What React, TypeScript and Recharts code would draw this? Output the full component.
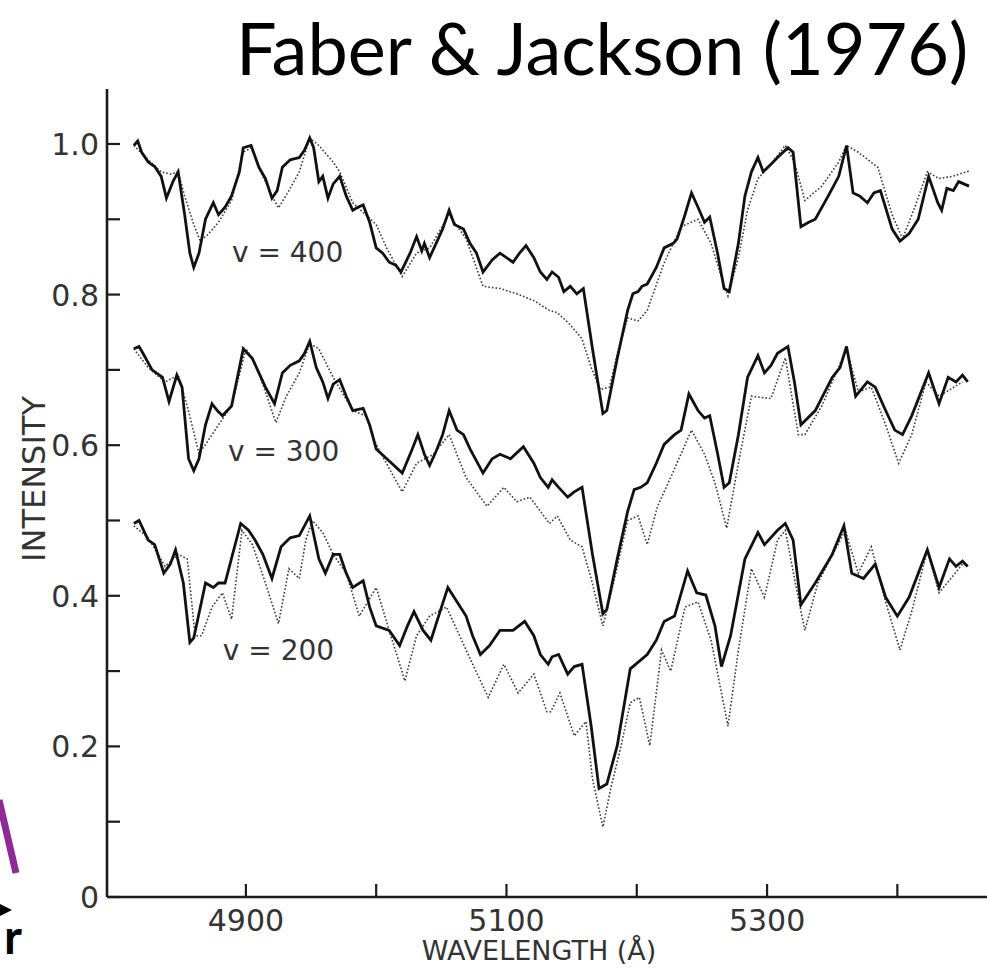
import React from 'react';
import { LineChart, Line, XAxis, YAxis, ReferenceDot } from 'recharts';

// wavelength (Å), intensity
const galaxy400: [number, number][] = [
  [4814, 0.998], [4817, 1.004], [4820, 0.989], [4825, 0.976], [4830, 0.970], [4835, 0.957],
  [4839, 0.928], [4844, 0.950], [4848, 0.963], [4853, 0.906], [4857, 0.855], [4860, 0.836],
  [4864, 0.855], [4869, 0.900], [4875, 0.922], [4879, 0.906], [4884, 0.916], [4889, 0.931],
  [4895, 0.963], [4898, 0.995], [4904, 0.998], [4910, 0.969], [4915, 0.954], [4920, 0.928],
  [4924, 0.938], [4928, 0.969], [4934, 0.979], [4941, 0.982], [4945, 0.992], [4949, 1.008],
  [4952, 0.995], [4956, 0.950], [4959, 0.957], [4963, 0.928], [4967, 0.947], [4972, 0.957],
  [4977, 0.931], [4982, 0.912], [4986, 0.916], [4990, 0.919], [4995, 0.896], [5000, 0.862],
  [5005, 0.855], [5010, 0.843], [5015, 0.839], [5019, 0.830], [5026, 0.855], [5031, 0.877],
  [5035, 0.858], [5037, 0.868], [5041, 0.849], [5046, 0.868], [5051, 0.887], [5056, 0.912],
  [5060, 0.893], [5067, 0.887], [5072, 0.868], [5077, 0.855], [5082, 0.830], [5089, 0.846],
  [5095, 0.855], [5100, 0.849], [5105, 0.843], [5110, 0.855], [5115, 0.865], [5121, 0.849],
  [5126, 0.830], [5131, 0.820], [5135, 0.830], [5140, 0.823], [5144, 0.804], [5149, 0.811],
  [5154, 0.801], [5159, 0.808], [5166, 0.728], [5174, 0.642], [5177, 0.646], [5185, 0.715],
  [5193, 0.779], [5197, 0.801], [5201, 0.804], [5204, 0.811], [5208, 0.814], [5215, 0.836],
  [5221, 0.862], [5228, 0.868], [5231, 0.874], [5237, 0.906], [5242, 0.935], [5247, 0.916],
  [5252, 0.896], [5256, 0.903], [5262, 0.855], [5267, 0.808], [5271, 0.804], [5278, 0.868],
  [5283, 0.931], [5288, 0.963], [5293, 0.982], [5297, 0.963], [5303, 0.973], [5308, 0.982],
  [5316, 0.995], [5320, 0.989], [5326, 0.890], [5332, 0.896], [5337, 0.900], [5347, 0.931],
  [5355, 0.957], [5361, 0.998], [5366, 0.935], [5371, 0.931], [5377, 0.922], [5382, 0.935],
  [5387, 0.938], [5396, 0.887], [5402, 0.871], [5409, 0.881], [5416, 0.900], [5424, 0.957],
  [5431, 0.922], [5434, 0.912], [5438, 0.941], [5443, 0.938], [5447, 0.950], [5451, 0.947],
  [5455, 0.944],
];

const template400: [number, number][] = [
  [4814, 0.998], [4825, 0.979], [4835, 0.963], [4842, 0.960], [4848, 0.963], [4853, 0.931],
  [4860, 0.893], [4865, 0.871], [4871, 0.880], [4879, 0.896], [4889, 0.925], [4898, 0.989],
  [4904, 0.995], [4910, 0.969], [4920, 0.931], [4925, 0.915], [4933, 0.938], [4941, 0.963],
  [4949, 1.008], [4956, 0.998], [4967, 0.976], [4972, 0.963], [4982, 0.922], [4992, 0.906],
  [5000, 0.893], [5008, 0.862], [5020, 0.824], [5031, 0.855], [5041, 0.862], [5056, 0.906],
  [5069, 0.874], [5082, 0.811], [5095, 0.808], [5108, 0.801], [5121, 0.792], [5133, 0.779],
  [5139, 0.776], [5149, 0.760], [5158, 0.741], [5165, 0.703], [5172, 0.674], [5179, 0.677],
  [5186, 0.728], [5193, 0.769], [5201, 0.765], [5208, 0.779], [5221, 0.842], [5234, 0.890],
  [5247, 0.900], [5257, 0.868], [5265, 0.823], [5270, 0.798], [5278, 0.849], [5285, 0.912],
  [5293, 0.954], [5303, 0.973], [5314, 0.998], [5321, 0.976], [5329, 0.925], [5342, 0.944],
  [5355, 0.976], [5361, 0.998], [5370, 0.989], [5385, 0.969], [5396, 0.906], [5404, 0.874],
  [5414, 0.919], [5423, 0.963], [5432, 0.954], [5442, 0.957], [5455, 0.964],
];

const galaxy300: [number, number][] = [
  [4814, 0.728], [4818, 0.731], [4821, 0.722], [4828, 0.700], [4836, 0.690], [4841, 0.658],
  [4847, 0.693], [4851, 0.677], [4856, 0.582], [4860, 0.566], [4864, 0.582], [4869, 0.627],
  [4874, 0.655], [4878, 0.646], [4882, 0.639], [4889, 0.652], [4898, 0.728], [4905, 0.715],
  [4910, 0.696], [4915, 0.677], [4922, 0.655], [4928, 0.696], [4934, 0.706], [4941, 0.712],
  [4945, 0.722], [4949, 0.738], [4954, 0.703], [4959, 0.684], [4963, 0.662], [4967, 0.681],
  [4972, 0.687], [4977, 0.665], [4982, 0.646], [4990, 0.649], [4995, 0.627], [5000, 0.595],
  [5010, 0.579], [5020, 0.563], [5027, 0.592], [5032, 0.614], [5037, 0.588], [5041, 0.573],
  [5046, 0.592], [5051, 0.614], [5056, 0.646], [5062, 0.620], [5067, 0.614], [5072, 0.595],
  [5082, 0.563], [5089, 0.582], [5095, 0.588], [5103, 0.582], [5113, 0.598], [5121, 0.576],
  [5126, 0.557], [5132, 0.544], [5135, 0.554], [5140, 0.544], [5147, 0.531], [5152, 0.538],
  [5158, 0.544], [5166, 0.455], [5174, 0.376], [5177, 0.382], [5185, 0.449], [5193, 0.512],
  [5198, 0.541], [5203, 0.544], [5208, 0.550], [5215, 0.576], [5221, 0.601], [5229, 0.614],
  [5234, 0.620], [5240, 0.668], [5247, 0.646], [5252, 0.636], [5256, 0.639], [5262, 0.589],
  [5267, 0.544], [5271, 0.550], [5278, 0.614], [5285, 0.690], [5293, 0.719], [5298, 0.696],
  [5303, 0.706], [5308, 0.722], [5316, 0.731], [5321, 0.684], [5326, 0.627], [5337, 0.646],
  [5350, 0.690], [5356, 0.703], [5361, 0.731], [5368, 0.665], [5377, 0.684], [5383, 0.677],
  [5391, 0.646], [5398, 0.620], [5404, 0.614], [5411, 0.639], [5424, 0.696], [5432, 0.655],
  [5439, 0.690], [5445, 0.684], [5450, 0.693], [5454, 0.684],
];

const template300: [number, number][] = [
  [4814, 0.728], [4825, 0.703], [4838, 0.684], [4848, 0.693], [4855, 0.652], [4864, 0.589],
  [4869, 0.601], [4879, 0.627], [4889, 0.652], [4900, 0.728], [4907, 0.709], [4915, 0.671],
  [4923, 0.630], [4931, 0.665], [4941, 0.696], [4949, 0.735], [4956, 0.728], [4967, 0.690],
  [4982, 0.646], [4992, 0.639], [5000, 0.601], [5010, 0.569], [5020, 0.538], [5031, 0.576],
  [5044, 0.588], [5056, 0.614], [5069, 0.557], [5085, 0.519], [5098, 0.544], [5108, 0.525],
  [5118, 0.531], [5133, 0.496], [5139, 0.506], [5149, 0.474], [5158, 0.465], [5165, 0.423],
  [5174, 0.360], [5183, 0.423], [5193, 0.500], [5201, 0.506], [5208, 0.468], [5216, 0.519],
  [5226, 0.557], [5242, 0.620], [5252, 0.588], [5260, 0.550], [5269, 0.490], [5278, 0.576],
  [5288, 0.665], [5303, 0.662], [5314, 0.716], [5324, 0.614], [5329, 0.614], [5342, 0.652],
  [5361, 0.728], [5370, 0.671], [5380, 0.677], [5391, 0.627], [5401, 0.576], [5411, 0.614],
  [5422, 0.684], [5432, 0.665], [5450, 0.684],
];

const galaxy200: [number, number][] = [
  [4814, 0.496], [4818, 0.500], [4825, 0.474], [4830, 0.468], [4837, 0.430], [4842, 0.442],
  [4846, 0.461], [4852, 0.417], [4857, 0.338], [4860, 0.344], [4869, 0.417], [4875, 0.411],
  [4879, 0.417], [4884, 0.417], [4896, 0.496], [4902, 0.487], [4907, 0.474], [4913, 0.455],
  [4920, 0.423], [4927, 0.465], [4934, 0.477], [4941, 0.480], [4949, 0.506], [4956, 0.449],
  [4961, 0.430], [4967, 0.455], [4972, 0.455], [4977, 0.430], [4982, 0.411], [4990, 0.420],
  [4995, 0.385], [5000, 0.360], [5010, 0.354], [5018, 0.334], [5024, 0.360], [5029, 0.379],
  [5036, 0.354], [5042, 0.341], [5049, 0.379], [5055, 0.411], [5062, 0.392], [5069, 0.373],
  [5074, 0.347], [5080, 0.322], [5087, 0.334], [5095, 0.354], [5105, 0.354], [5114, 0.366],
  [5121, 0.347], [5126, 0.322], [5132, 0.309], [5135, 0.319], [5140, 0.322], [5147, 0.296],
  [5152, 0.306], [5158, 0.309], [5165, 0.227], [5171, 0.144], [5177, 0.150], [5185, 0.201],
  [5190, 0.252], [5195, 0.303], [5208, 0.322], [5215, 0.341], [5221, 0.366], [5229, 0.373],
  [5239, 0.433], [5246, 0.404], [5253, 0.401], [5260, 0.360], [5265, 0.306], [5272, 0.347],
  [5283, 0.449], [5293, 0.484], [5298, 0.468], [5308, 0.487], [5314, 0.496], [5320, 0.474],
  [5326, 0.388], [5337, 0.417], [5350, 0.455], [5359, 0.493], [5365, 0.430], [5374, 0.423],
  [5383, 0.442], [5391, 0.398], [5400, 0.373], [5409, 0.398], [5423, 0.461], [5432, 0.411],
  [5440, 0.449], [5445, 0.439], [5450, 0.446], [5454, 0.439],
];

const template200: [number, number][] = [
  [4814, 0.493], [4825, 0.477], [4838, 0.439], [4848, 0.455], [4855, 0.449], [4861, 0.347],
  [4866, 0.347], [4874, 0.385], [4882, 0.404], [4889, 0.369], [4897, 0.487], [4905, 0.468],
  [4915, 0.417], [4925, 0.363], [4933, 0.436], [4941, 0.423], [4946, 0.474], [4951, 0.500],
  [4959, 0.484], [4967, 0.455], [4977, 0.430], [4987, 0.373], [5000, 0.411], [5010, 0.354],
  [5022, 0.287], [5031, 0.347], [5041, 0.373], [5054, 0.385], [5069, 0.328], [5086, 0.265],
  [5098, 0.309], [5109, 0.271], [5121, 0.296], [5131, 0.246], [5134, 0.246], [5141, 0.271],
  [5152, 0.214], [5161, 0.233], [5166, 0.157], [5174, 0.093], [5180, 0.144], [5188, 0.201],
  [5195, 0.258], [5202, 0.265], [5210, 0.201], [5219, 0.328], [5226, 0.300], [5237, 0.385],
  [5247, 0.392], [5257, 0.341], [5270, 0.227], [5278, 0.328], [5288, 0.436], [5298, 0.398],
  [5308, 0.474], [5314, 0.487], [5321, 0.423], [5329, 0.354], [5339, 0.417], [5360, 0.487],
  [5370, 0.430], [5380, 0.465], [5391, 0.392], [5402, 0.328], [5411, 0.379], [5423, 0.461],
  [5432, 0.404], [5450, 0.442],
];

const xTicks = [4900, 5000, 5100, 5200, 5300, 5400];
const xLabelled = [4900, 5100, 5300];
const yTicks = [0, 0.1, 0.2, 0.3, 0.4, 0.5, 0.6, 0.7, 0.8, 0.9, 1.0];
const yLabelled = [0, 0.2, 0.4, 0.6, 0.8, 1.0];

const panels = [
  { label: 'v = 400', galaxy: galaxy400, template: template400, at: [4932, 0.857] },
  { label: 'v = 300', galaxy: galaxy300, template: template300, at: [4929, 0.592] },
  { label: 'v = 200', galaxy: galaxy200, template: template200, at: [4925, 0.328] },
];

const X_DOMAIN: [number, number] = [4793.4, 5468.8];
const Y_DOMAIN: [number, number] = [0, 1.073];
const INK = '#1c1c1c';
const TICK_FONT = '"DejaVu Sans", sans-serif';
const TICK_LEN = 13;

const toPoints = (s: [number, number][]) => s.map(([w, i]) => ({ w, i }));

function BottomTick({ x, y, payload }: any) {
  const v = payload.value;
  return (
    <g>
      <line x1={x} x2={x} y1={y} y2={y - TICK_LEN} stroke={INK} strokeWidth={2.2} />
      {xLabelled.includes(v) && (
        <text x={x} y={y + 34} textAnchor="middle" fontSize={30} fontFamily={TICK_FONT} fill="#333">
          {v}
        </text>
      )}
    </g>
  );
}

function TopTick({ x, y }: any) {
  return <line x1={x} x2={x} y1={y} y2={y + TICK_LEN} stroke={INK} strokeWidth={2.2} />;
}

function LeftTick({ x, y, payload }: any) {
  const v = payload.value;
  const show = yLabelled.some((t) => Math.abs(t - v) < 1e-6);
  return (
    <g>
      <line x1={x} x2={x + TICK_LEN} y1={y} y2={y} stroke={INK} strokeWidth={2.2} />
      {show && (
        <text x={x - 8} y={y + 11} textAnchor="end" fontSize={30} fontFamily={TICK_FONT} fill="#333">
          {v === 0 ? '0' : v.toFixed(1)}
        </text>
      )}
    </g>
  );
}

export default function App() {
  return (
    <div style={{ position: 'fixed', left: 0, top: 0, width: 987, height: 968, background: '#fff', overflow: 'hidden' }}>
      <LineChart width={987} height={968} margin={{ top: 89, right: 0, bottom: 0, left: 0 }}>
        <XAxis
          dataKey="w"
          type="number"
          domain={X_DOMAIN}
          ticks={xTicks}
          height={71}
          tickSize={0}
          tickMargin={0}
          tickLine={false}
          tick={(p: any) => <BottomTick {...p} />}
          axisLine={{ stroke: INK, strokeWidth: 2.6 }}
          allowDataOverflow
        />
        <XAxis
          xAxisId="top"
          orientation="top"
          type="number"
          domain={X_DOMAIN}
          ticks={xTicks}
          height={0}
          tickSize={0}
          tickMargin={0}
          tickLine={false}
          tick={(p: any) => <TopTick {...p} />}
          axisLine={{ stroke: INK, strokeWidth: 2.6 }}
          allowDataOverflow
        />
        <YAxis
          type="number"
          domain={Y_DOMAIN}
          ticks={yTicks}
          width={107}
          tickSize={0}
          tickMargin={0}
          tickLine={false}
          tick={(p: any) => <LeftTick {...p} />}
          axisLine={{ stroke: INK, strokeWidth: 2.6 }}
          allowDataOverflow
        />
        {panels.map((p) => (
          <Line
            key={`t-${p.label}`}
            data={toPoints(p.template)}
            dataKey="i"
            type="linear"
            stroke="#3a3a3a"
            strokeWidth={1.6}
            strokeDasharray="1.6 2"
            dot={false}
            isAnimationActive={false}
          />
        ))}
        {panels.map((p) => (
          <Line
            key={`g-${p.label}`}
            data={toPoints(p.galaxy)}
            dataKey="i"
            type="linear"
            stroke="#111"
            strokeWidth={2.8}
            strokeLinejoin="miter"
            dot={false}
            isAnimationActive={false}
          />
        ))}
        {panels.map((p) => (
          <ReferenceDot
            key={`l-${p.label}`}
            x={p.at[0]}
            y={p.at[1]}
            r={0}
            stroke="none"
            fill="none"
            label={{ value: p.label, position: 'center', fontSize: 28, fontFamily: TICK_FONT, fill: '#333' }}
          />
        ))}
      </LineChart>

      <svg width={987} height={968} style={{ position: 'absolute', left: 0, top: 0, pointerEvents: 'none' }}>
        <text x={236} y={75} fontSize={72} fontFamily="Lato, sans-serif" fill="#000">
          Faber &amp; Jackson (1976)
        </text>
        <text
          x={34}
          y={479}
          transform="rotate(-90 34 479)"
          textAnchor="middle"
          dominantBaseline="central"
          fontSize={32}
          fontFamily={TICK_FONT}
          fill="#333"
        >
          INTENSITY
        </text>
        <text x={539} y={960} textAnchor="middle" fontSize={27} fontFamily={TICK_FONT} fill="#333">
          WAVELENGTH (Å)
        </text>
        {/* bits of the slide that sit under the figure */}
        <line x1={-1} y1={800} x2={16} y2={873} stroke="#8e2a97" strokeWidth={7} />
        <polygon points="0,904 12,910 0,916" fill="#000" />
        <text x={4} y={954} fontSize={48} fontFamily="Lato, sans-serif" fontWeight={700} fill="#000">
          r
        </text>
      </svg>
    </div>
  );
}
